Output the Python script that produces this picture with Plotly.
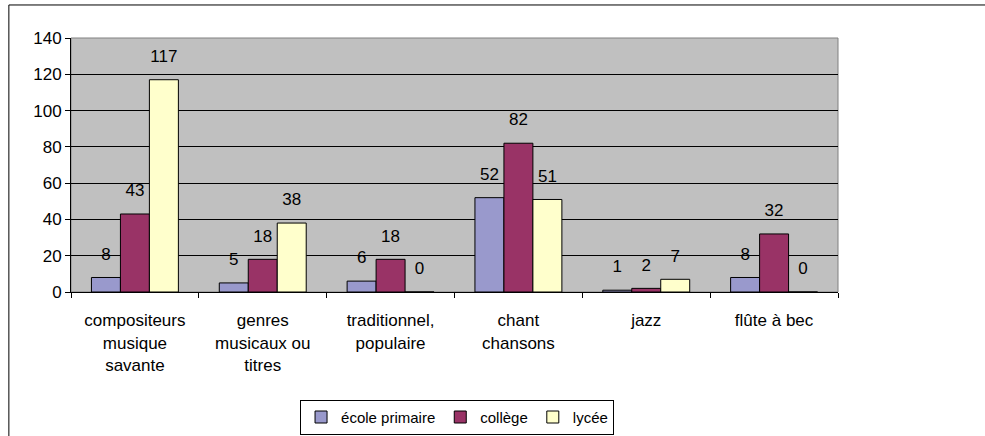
import plotly.graph_objects as go

categories = [
    "compositeurs<br>musique<br>savante",
    "genres<br>musicaux ou<br>titres",
    "traditionnel,<br>populaire",
    "chant<br>chansons",
    "jazz",
    "flûte à bec",
]
ecole_primaire = [8, 5, 6, 52, 1, 8]
college = [43, 18, 18, 82, 2, 32]
lycee = [117, 38, 0, 51, 7, 0]

series = [
    ("école primaire", ecole_primaire, "#9999CC"),
    ("collège", college, "#993366"),
    ("lycée", lycee, "#FFFFCC"),
]

fig = go.Figure()
for name, vals, color in series:
    fig.add_trace(go.Bar(
        name=name,
        x=categories,
        y=vals,
        offsetgroup=name,
        marker=dict(color=color, line=dict(color="#000000", width=1)),
        hovertemplate="%{y}<extra>" + name + "</extra>",
    ))
    # value labels, placed a bit higher than plotly's default bar text
    fig.add_trace(go.Scatter(
        x=categories,
        y=vals,
        offsetgroup=name,
        mode="markers+text",
        marker=dict(size=20, opacity=0),
        text=[str(v) for v in vals],
        textposition="top center",
        textfont=dict(size=17, color="#000000"),
        cliponaxis=False,
        showlegend=False,
        hoverinfo="skip",
    ))

# outer chart frame (only left and top edges visible)
fig.add_shape(type="line", xref="paper", yref="paper",
              x0=-0.081, x1=-0.081, y0=-0.6, y1=1.13,
              line=dict(color="#000000", width=1))
fig.add_shape(type="line", xref="paper", yref="paper",
              x0=-0.081, x1=1.3, y0=1.13, y1=1.13,
              line=dict(color="#000000", width=1))
# plot area border
fig.add_shape(type="rect", xref="paper", yref="paper",
              x0=0, x1=1, y0=0, y1=1,
              line=dict(color="#808080", width=1), layer="below")

fig.update_layout(
    width=985, height=436,
    margin=dict(l=71, r=147, t=38, b=144),
    barmode="group",
    scattermode="group",
    bargap=0.32,
    bargroupgap=0,
    scattergap=0.32,
    plot_bgcolor="#C0C0C0",
    paper_bgcolor="#FFFFFF",
    font=dict(family="Liberation Sans, Arial", size=17, color="#000000"),
    legend=dict(
        orientation="h",
        xref="container", yref="container",
        x=0.464, xanchor="center",
        y=0.043, yanchor="middle",
        bordercolor="#000000", borderwidth=1,
        font=dict(size=15),
        itemwidth=30,
        tracegroupgap=0,
        traceorder="normal",
    ),
    xaxis=dict(
        showgrid=False,
        ticks="outside", tickson="boundaries", ticklen=5,
        tickcolor="#000000",
        showline=True, linecolor="#000000", linewidth=1,
        tickfont=dict(size=17),
        ticklabelstandoff=13,
        automargin=False,
    ),
    yaxis=dict(
        range=[0, 140], dtick=20,
        showgrid=True, gridcolor="#000000", gridwidth=1,
        ticks="outside", ticklen=5, tickcolor="#000000",
        showline=True, linecolor="#000000", linewidth=1,
        zeroline=False,
        tickfont=dict(size=17),
        automargin=False,
    ),
)

fig.write_html("out.html", config={"displayModeBar": False},
               post_script="document.body.style.margin='0';")
